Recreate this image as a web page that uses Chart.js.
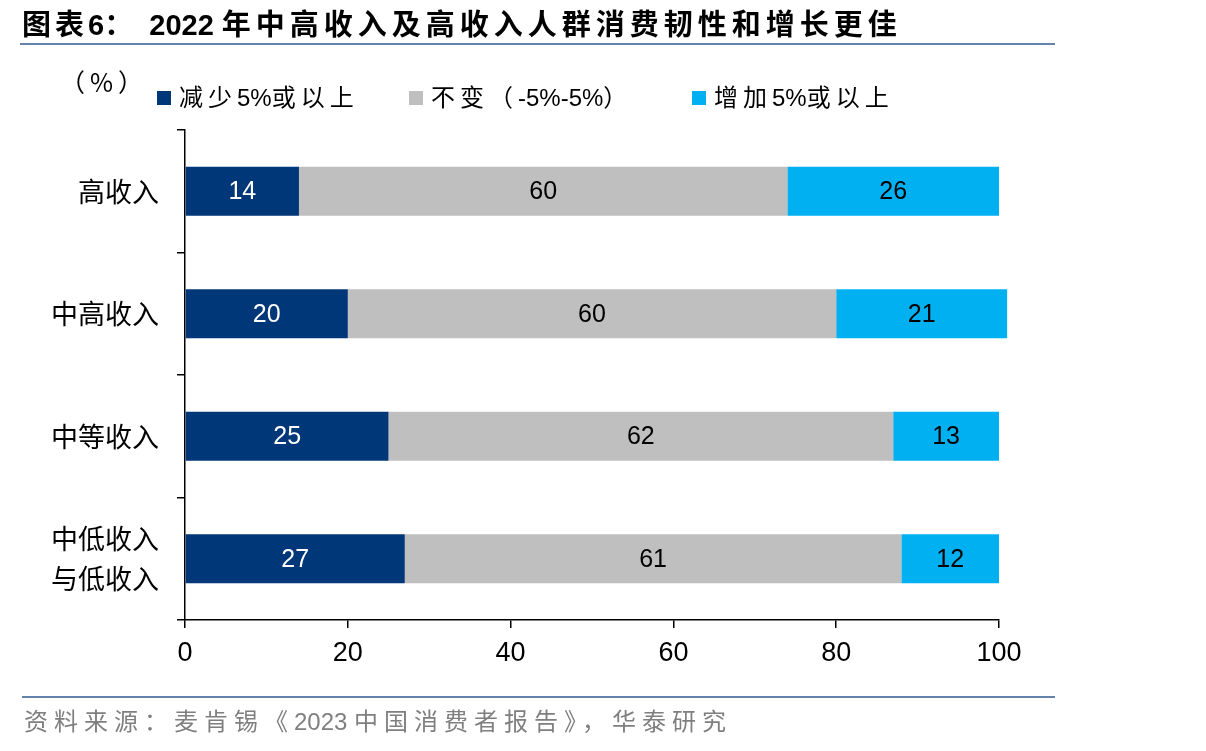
<!DOCTYPE html>
<html>
<head>
<meta charset="utf-8">
<script src="https://cdn.jsdelivr.net/npm/chart.js@4.4.0/dist/chart.umd.min.js"></script>
<style>
  body { margin: 0; background: #fff; }
  #wrap { position: relative; width: 1206px; height: 751px; overflow: hidden; font-family: "Liberation Sans", "Noto Sans CJK SC", sans-serif; }
  #chart { position: absolute; left: 0; top: 0; }
  .title { position: absolute; left: 22px; top: 1px; font-size: 29px; font-weight: bold; color: #000; white-space: nowrap; }
  .rule { position: absolute; height: 2px; background: #6383ad; }
  .unit { position: absolute; left: 60px; top: 63px; font-size: 25px; color: #000; letter-spacing: 5px; font-family: "Noto Sans CJK SC", sans-serif; }
  .leg { position: absolute; top: 78px; font-size: 24px; color: #000; white-space: nowrap; }
  .leg i { display: inline-block; width: 14px; height: 14px; margin-right: 8px; vertical-align: 1px; }
  .source { position: absolute; left: 24px; top: 702px; font-size: 24px; color: #7f7f7f; white-space: nowrap; }
</style>
</head>
<body>
<div id="wrap">
  <canvas id="chart" width="1206" height="751"></canvas>
  <div class="title" id="title"></div>
  <div class="rule" style="left:20px; top:43px; width:1035px;"></div>
  <div class="unit">（%）</div>
  <div id="legend"></div>
  <div class="rule" style="left:22px; top:696px; width:1033px;"></div>
  <div class="source" id="source"></div>
</div>
<script>
  // 数据
  const categories = ["高收入", "中高收入", "中等收入", ["中低收入", "与低收入"]];
  const seriesNames = ["减少5%或以上", "不变（-5%-5%）", "增加5%或以上"];
  const decrease = [14, 20, 25, 27];
  const unchanged = [60, 60, 62, 61];
  const increase = [26, 21, 13, 12];
  const xTicks = [0, 20, 40, 60, 80, 100];

  const colors = ["#003778", "#bfbfbf", "#00b0f0"];
  const labelColors = ["#ffffff", "#000000", "#000000"];
  const legendLeft = [157, 409, 692];

  // 中文字符加字距
  const spaced = (text, px) =>
    text.replace(/[\u3000-\u9fff\uff00-\uffef《》]+/g, (m) => '<span style="letter-spacing:' + px + 'px">' + m + "</span>");

  document.getElementById("title").innerHTML = spaced("图表", 4) + "6：&nbsp;&nbsp;2022 " + spaced("年中高收入及高收入人群消费韧性和增长更佳", 5);
  document.getElementById("source").innerHTML = spaced("资料来源：麦肯锡《", 6) + "2023 " + spaced("中国消费者报告》，华泰研究", 6);

  // 图例 (html)
  const legendBox = document.getElementById("legend");
  seriesNames.forEach((name, i) => {
    const d = document.createElement("div");
    d.className = "leg";
    d.style.left = legendLeft[i] + "px";
    d.innerHTML = '<i style="background:' + colors[i] + '"></i>' + spaced(name, 5);
    legendBox.appendChild(d);
  });

  // 柱内数值
  const barLabels = {
    id: "barLabels",
    afterDatasetsDraw(chart) {
      const ctx = chart.ctx;
      ctx.save();
      ctx.font = "25px 'Liberation Sans', Arial, sans-serif";
      ctx.textAlign = "center";
      ctx.textBaseline = "middle";
      chart.data.datasets.forEach((ds, i) => {
        chart.getDatasetMeta(i).data.forEach((bar, j) => {
          ctx.fillStyle = labelColors[i];
          ctx.fillText(ds.data[j], (bar.x + bar.base) / 2, bar.y + 1);
        });
      });
      ctx.restore();
    }
  };

  new Chart(document.getElementById("chart"), {
    type: "bar",
    data: {
      labels: categories,
      datasets: [
        { label: seriesNames[0], data: decrease, backgroundColor: colors[0] },
        { label: seriesNames[1], data: unchanged, backgroundColor: colors[1] },
        { label: seriesNames[2], data: increase, backgroundColor: colors[2] },
      ],
    },
    options: {
      indexAxis: "y",
      responsive: false,
      animation: false,
      layout: { padding: { top: 130, right: 207, bottom: 0, left: 0 } },
      datasets: { bar: { barPercentage: 0.8, categoryPercentage: 0.5, clip: false, borderWidth: 0 } },
      plugins: { legend: { display: false }, tooltip: { enabled: false } },
      scales: {
        x: {
          stacked: true,
          min: 0,
          max: 100,
          afterBuildTicks: (scale) => { scale.ticks = xTicks.map((v) => ({ value: v })); },
          afterFit: (scale) => { scale.height = 131; },
          grid: { drawOnChartArea: false, tickLength: 8, color: "#000", lineWidth: 1.5 },
          border: { color: "#000", width: 1.5 },
          ticks: { color: "#000", padding: 9, maxRotation: 0, font: { family: "'Liberation Sans', Arial, sans-serif", size: 27 } },
        },
        y: {
          stacked: true,
          afterFit: (scale) => { scale.width = 185; },
          grid: { drawOnChartArea: false, tickLength: 8, color: "#000", lineWidth: 1.5, offset: true },
          border: { color: "#000", width: 1.5 },
          ticks: { color: "#000", padding: 18, font: { family: "'Noto Sans CJK SC', sans-serif", size: 27, lineHeight: 1.45 } },
        },
      },
    },
    plugins: [barLabels],
  });
</script>
</body>
</html>
